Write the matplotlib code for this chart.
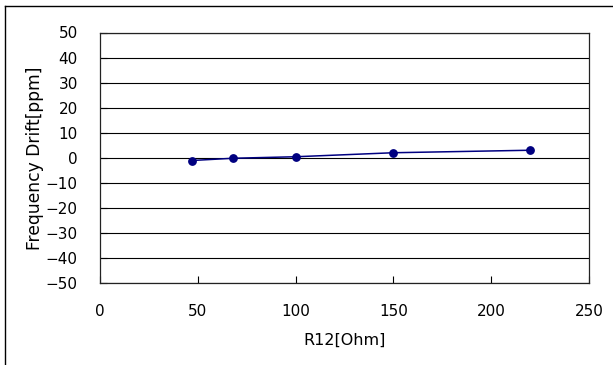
import matplotlib.pyplot as plt
from matplotlib.lines import Line2D

plt.rcParams['font.family'] = ['DejaVu Sans']

# R12 resistance vs. frequency drift
r12 = [47, 68, 100, 150, 220]
drift = [-1.1, -0.2, 0.4, 2.0, 3.0]

x_ticks = [0, 50, 100, 150, 200, 250]
y_ticks = [-50, -40, -30, -20, -10, 0, 10, 20, 30, 40, 50]

fig = plt.figure(figsize=(6.13, 3.65), dpi=100)
ax = fig.add_axes([100 / 613, 1 - 283 / 365, 489 / 613, 250.5 / 365])

# outer chart border (left and top edges only show)
fig.add_artist(Line2D([5.5 / 613, 5.5 / 613], [0, 1 - 5.5 / 365],
                      transform=fig.transFigure, color='black', lw=1.0))
fig.add_artist(Line2D([5.5 / 613, 1], [1 - 5.5 / 365, 1 - 5.5 / 365],
                      transform=fig.transFigure, color='black', lw=1.0))

ax.plot(r12, drift, color='#000080', lw=1.1, marker='o', markersize=5.3,
        zorder=3)

ax.set_xlim(0, 250)
ax.set_ylim(-50, 50)
ax.set_xticks(x_ticks)
ax.set_yticks(y_ticks)
ax.set_yticklabels([str(v).replace('-', '\u2212') for v in y_ticks])
ax.yaxis.grid(True, color='black', lw=0.8)
ax.set_axisbelow(True)

ax.tick_params(direction='in', length=5, width=0.8, labelsize=11,
               colors='black')
ax.tick_params(axis='y', pad=16)
ax.tick_params(axis='x', pad=15)
for s in ax.spines.values():
    s.set_linewidth(0.9)
    s.set_color('#222222')

ax.set_xlabel('R12[Ohm]', fontsize=11.5, labelpad=10)
ax.set_ylabel('Frequency Drift[ppm]', fontsize=12.3, labelpad=1)

fig.savefig('out.png', dpi=100)
